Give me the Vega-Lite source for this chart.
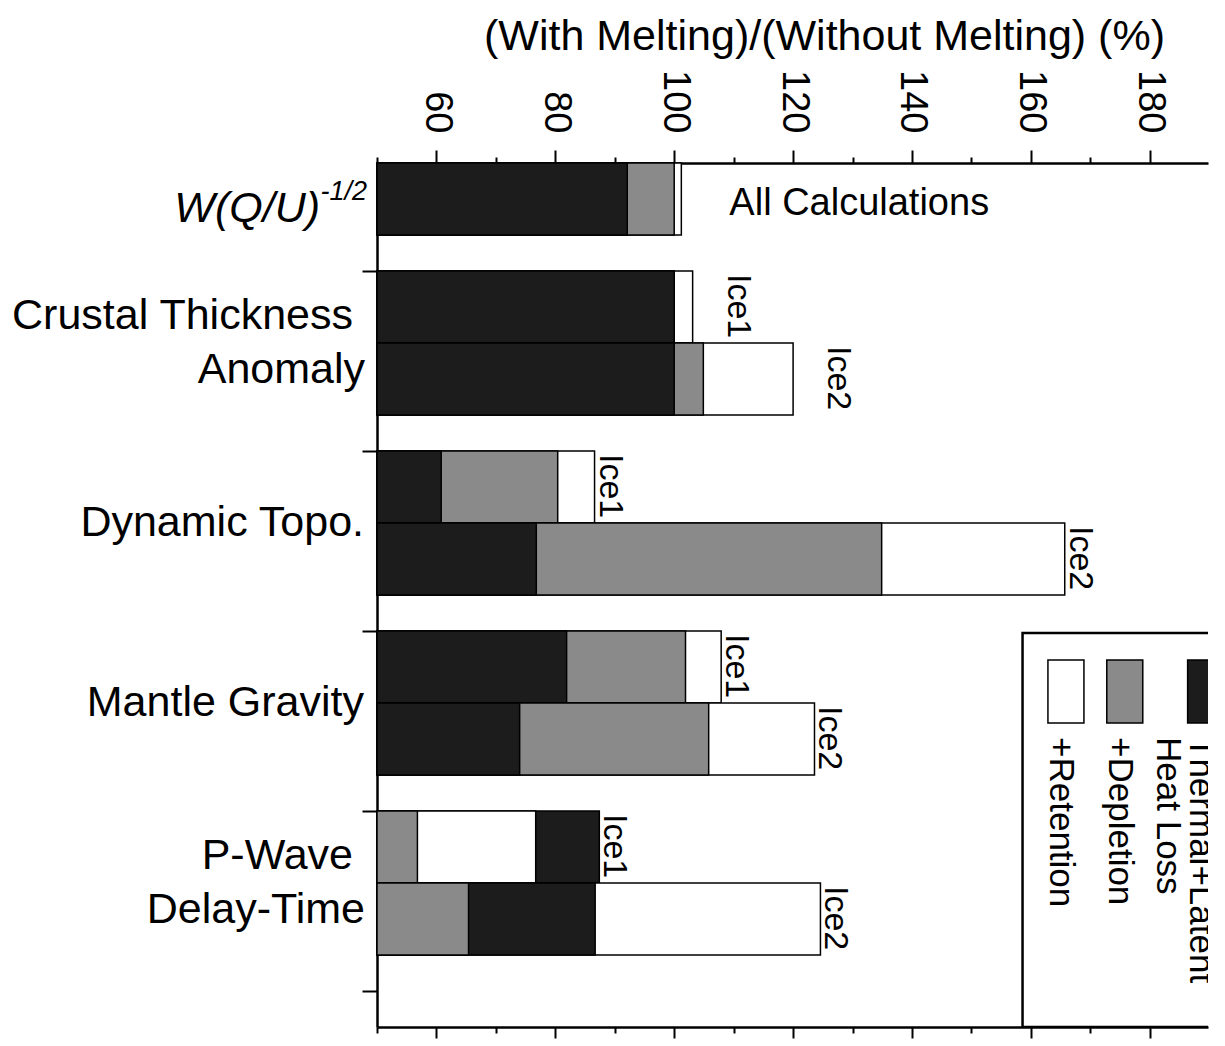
{
  "$schema": "https://vega.github.io/schema/vega-lite/v6.json",
  "autosize": "none",
  "width": 831,
  "height": 864,
  "padding": {"left": 377, "top": 163, "right": 17, "bottom": 19},
  "background": "white",
  "config": {
    "font": "Liberation Sans",
    "view": {"stroke": null},
    "scale": {"continuousPadding": 0},
    "axis": {"domainColor": "black", "domainWidth": 2.5, "tickColor": "black", "tickWidth": 2, "labelColor": "black", "titleColor": "black", "grid": false}
  },
  "datasets": {
    "bars": [
      {"bar": "W", "case": "All", "pos": 0.6, "measure": "Retention", "value": 101.2},
      {"bar": "W", "case": "All", "pos": 0.6, "measure": "Depletion", "value": 100.0},
      {"bar": "W", "case": "All", "pos": 0.6, "measure": "Thermal", "value": 92.1},
      {"bar": "Crustal", "case": "Ice1", "pos": 1.2, "measure": "Retention", "value": 103.1},
      {"bar": "Crustal", "case": "Ice1", "pos": 1.2, "measure": "Depletion", "value": 100.0},
      {"bar": "Crustal", "case": "Ice1", "pos": 1.2, "measure": "Thermal", "value": 100.0},
      {"bar": "Crustal", "case": "Ice2", "pos": 1.6, "measure": "Retention", "value": 120.0},
      {"bar": "Crustal", "case": "Ice2", "pos": 1.6, "measure": "Depletion", "value": 104.9},
      {"bar": "Crustal", "case": "Ice2", "pos": 1.6, "measure": "Thermal", "value": 100.0},
      {"bar": "Topo", "case": "Ice1", "pos": 2.2, "measure": "Retention", "value": 86.6},
      {"bar": "Topo", "case": "Ice1", "pos": 2.2, "measure": "Depletion", "value": 80.4},
      {"bar": "Topo", "case": "Ice1", "pos": 2.2, "measure": "Thermal", "value": 60.8},
      {"bar": "Topo", "case": "Ice2", "pos": 2.6, "measure": "Retention", "value": 165.7},
      {"bar": "Topo", "case": "Ice2", "pos": 2.6, "measure": "Depletion", "value": 134.9},
      {"bar": "Topo", "case": "Ice2", "pos": 2.6, "measure": "Thermal", "value": 76.8},
      {"bar": "Gravity", "case": "Ice1", "pos": 3.2, "measure": "Retention", "value": 107.9},
      {"bar": "Gravity", "case": "Ice1", "pos": 3.2, "measure": "Depletion", "value": 101.9},
      {"bar": "Gravity", "case": "Ice1", "pos": 3.2, "measure": "Thermal", "value": 81.9},
      {"bar": "Gravity", "case": "Ice2", "pos": 3.6, "measure": "Retention", "value": 123.6},
      {"bar": "Gravity", "case": "Ice2", "pos": 3.6, "measure": "Depletion", "value": 105.8},
      {"bar": "Gravity", "case": "Ice2", "pos": 3.6, "measure": "Thermal", "value": 74.0},
      {"bar": "PWave", "case": "Ice1", "pos": 4.2, "measure": "Thermal", "value": 87.4},
      {"bar": "PWave", "case": "Ice1", "pos": 4.2, "measure": "Retention", "value": 76.7},
      {"bar": "PWave", "case": "Ice1", "pos": 4.2, "measure": "Depletion", "value": 56.8},
      {"bar": "PWave", "case": "Ice2", "pos": 4.6, "measure": "Retention", "value": 124.6},
      {"bar": "PWave", "case": "Ice2", "pos": 4.6, "measure": "Thermal", "value": 86.7},
      {"bar": "PWave", "case": "Ice2", "pos": 4.6, "measure": "Depletion", "value": 65.4}
    ],
    "ylabels": [
      {"label": "Crustal Thickness", "pos": 1.4, "line": "first"},
      {"label": "Anomaly", "pos": 1.4, "line": "second"},
      {"label": "Dynamic Topo.", "pos": 2.4, "line": "single"},
      {"label": "Mantle Gravity", "pos": 3.4, "line": "single"},
      {"label": "P-Wave", "pos": 4.4, "line": "first"},
      {"label": "Delay-Time", "pos": 4.4, "line": "second"}
    ],
    "legend": [
      {"measure": "Retention", "label": ["+Retention"], "lx": 165.9},
      {"measure": "Depletion", "label": ["+Depletion"], "lx": 175.8},
      {"measure": "Thermal", "label": ["Thermal+Latent", "Heat Loss"], "lx": 189.4}
    ]
  },
  "resolve": {"axis": {"x": "independent", "y": "independent"}},
  "layer": [
    {
      "data": {"name": "bars"},
      "mark": {"type": "bar", "height": 72, "stroke": "black", "strokeWidth": 1.5},
      "encoding": {
        "y": {"field": "pos", "type": "quantitative", "scale": {"domain": [0.4, 5.2], "reverse": true, "nice": false, "zero": false, "padding": 0},
              "axis": {"orient": "left", "values": [1, 2, 3, 4, 5], "tickSize": 15, "labels": false, "title": null, "domain": true}},
        "x": {"field": "value", "type": "quantitative", "scale": {"domain": [50, 189.8], "nice": false, "zero": false, "padding": 0},
              "axis": {"orient": "top", "values": [50, 60, 70, 80, 90, 100, 110, 120, 130, 140, 150, 160, 170, 180],
                       "tickSize": {"condition": {"test": "datum.value % 20 === 0", "value": 13}, "value": 6},
                       "labelExpr": "datum.value % 20 === 0 ? datum.label : ''",
                       "labelAngle": 90, "labelAlign": "right", "labelBaseline": "middle", "labelPadding": 17,
                       "labelFontSize": 38, "labelFont": "Liberation Sans", "labelOverlap": false, "labelBound": false, "labelFlush": false,
                       "title": "(With Melting)/(Without Melting) (%)", "titleFontSize": 43, "titleFontWeight": "normal", "titleFont": "Liberation Sans",
                       "titleX": 447, "titleY": -114, "titleAlign": "center", "titleBaseline": "alphabetic", "titleAngle": 0}},
        "x2": {"datum": 50},
        "color": {"field": "measure", "type": "nominal", "scale": {"domain": ["Thermal", "Depletion", "Retention"], "range": ["#1c1c1c", "#8a8a8a", "#ffffff"]}, "legend": null}
      }
    },
    {
      "data": {"name": "bars"},
      "transform": [
        {"joinaggregate": [{"op": "max", "field": "value", "as": "maxv"}], "groupby": ["pos"]},
        {"filter": "datum.value === datum.maxv && datum.case !== 'All' && datum.bar !== 'Crustal'"}
      ],
      "mark": {"type": "text", "angle": 90, "align": "left", "baseline": "alphabetic", "dx": -33, "dy": -5, "fontSize": 34, "color": "black"},
      "encoding": {
        "x": {"field": "value", "type": "quantitative", "scale": {"domain": [50, 189.8], "nice": false, "zero": false, "padding": 0}, "axis": null},
        "y": {"field": "pos", "type": "quantitative", "scale": {"domain": [0.4, 5.2], "reverse": true, "nice": false, "zero": false, "padding": 0}, "axis": null},
        "text": {"field": "case", "type": "nominal"}
      }
    },
    {
      "data": {"name": "bars"},
      "transform": [
        {"joinaggregate": [{"op": "max", "field": "value", "as": "maxv"}], "groupby": ["pos"]},
        {"filter": "datum.value === datum.maxv && datum.bar === 'Crustal'"}
      ],
      "mark": {"type": "text", "angle": 90, "align": "left", "baseline": "alphabetic", "dx": -33, "dy": -35, "fontSize": 34, "color": "black"},
      "encoding": {
        "x": {"field": "value", "type": "quantitative", "scale": {"domain": [50, 189.8], "nice": false, "zero": false, "padding": 0}, "axis": null},
        "y": {"field": "pos", "type": "quantitative", "scale": {"domain": [0.4, 5.2], "reverse": true, "nice": false, "zero": false, "padding": 0}, "axis": null},
        "text": {"field": "case", "type": "nominal"}
      }
    },
    {
      "data": {"name": "bars"},
      "transform": [{"filter": "datum.case === 'All' && datum.measure === 'Retention'"}],
      "mark": {"type": "text", "align": "left", "baseline": "alphabetic", "dx": 48, "dy": 16, "fontSize": 38, "color": "black"},
      "encoding": {
        "x": {"field": "value", "type": "quantitative", "scale": {"domain": [50, 189.8], "nice": false, "zero": false, "padding": 0}, "axis": null},
        "y": {"field": "pos", "type": "quantitative", "scale": {"domain": [0.4, 5.2], "reverse": true, "nice": false, "zero": false, "padding": 0}, "axis": null},
        "text": {"value": "All Calculations"}
      }
    },
    {
      "data": {"name": "ylabels"},
      "transform": [{"filter": "datum.line === 'first'"}],
      "mark": {"type": "text", "align": "right", "baseline": "middle", "dx": -24, "dy": -27, "fontSize": 43, "color": "black"},
      "encoding": {
        "x": {"datum": 50, "type": "quantitative", "scale": {"domain": [50, 189.8], "nice": false, "zero": false, "padding": 0}, "axis": null},
        "y": {"field": "pos", "type": "quantitative", "scale": {"domain": [0.4, 5.2], "reverse": true, "nice": false, "zero": false, "padding": 0}, "axis": null},
        "text": {"field": "label", "type": "nominal"}
      }
    },
    {
      "data": {"name": "ylabels"},
      "transform": [{"filter": "datum.line === 'second'"}],
      "mark": {"type": "text", "align": "right", "baseline": "middle", "dx": -12, "dy": 27, "fontSize": 43, "color": "black"},
      "encoding": {
        "x": {"datum": 50, "type": "quantitative", "scale": {"domain": [50, 189.8], "nice": false, "zero": false, "padding": 0}, "axis": null},
        "y": {"field": "pos", "type": "quantitative", "scale": {"domain": [0.4, 5.2], "reverse": true, "nice": false, "zero": false, "padding": 0}, "axis": null},
        "text": {"field": "label", "type": "nominal"}
      }
    },
    {
      "data": {"name": "ylabels"},
      "transform": [{"filter": "datum.line === 'single'"}],
      "mark": {"type": "text", "align": "right", "baseline": "middle", "dx": -13, "fontSize": 43, "color": "black"},
      "encoding": {
        "x": {"datum": 50, "type": "quantitative", "scale": {"domain": [50, 189.8], "nice": false, "zero": false, "padding": 0}, "axis": null},
        "y": {"field": "pos", "type": "quantitative", "scale": {"domain": [0.4, 5.2], "reverse": true, "nice": false, "zero": false, "padding": 0}, "axis": null},
        "text": {"field": "label", "type": "nominal"}
      }
    },
    {
      "data": {"values": [{}]},
      "mark": {"type": "text", "align": "right", "baseline": "alphabetic", "dx": -57, "dy": 23, "fontSize": 43, "fontStyle": "italic", "color": "black"},
      "encoding": {
        "x": {"datum": 50, "type": "quantitative", "scale": {"domain": [50, 189.8], "nice": false, "zero": false, "padding": 0}, "axis": null},
        "y": {"datum": 0.6, "type": "quantitative", "scale": {"domain": [0.4, 5.2], "reverse": true, "nice": false, "zero": false, "padding": 0}, "axis": null},
        "text": {"value": "W(Q/U)"}
      }
    },
    {
      "data": {"values": [{}]},
      "mark": {"type": "text", "align": "right", "baseline": "alphabetic", "dx": -10, "dy": 1, "fontSize": 27, "fontStyle": "italic", "color": "black"},
      "encoding": {
        "x": {"datum": 50, "type": "quantitative", "scale": {"domain": [50, 189.8], "nice": false, "zero": false, "padding": 0}, "axis": null},
        "y": {"datum": 0.6, "type": "quantitative", "scale": {"domain": [0.4, 5.2], "reverse": true, "nice": false, "zero": false, "padding": 0}, "axis": null},
        "text": {"value": "-1/2"}
      }
    },
    {
      "data": {"values": [{}]},
      "mark": {"type": "rect", "fill": "white", "stroke": "black", "strokeWidth": 2.5, "clip": true},
      "encoding": {
        "x": {"datum": 158.6, "type": "quantitative", "scale": {"domain": [50, 189.8], "nice": false, "zero": false, "padding": 0}, "axis": null},
        "x2": {"datum": 200},
        "y": {"datum": 3.011, "type": "quantitative", "scale": {"domain": [0.4, 5.2], "reverse": true, "nice": false, "zero": false, "padding": 0}, "axis": null},
        "y2": {"datum": 5.2}
      }
    },
    {
      "data": {"name": "legend"},
      "mark": {"type": "bar", "size": 36, "stroke": "black", "strokeWidth": 1.5, "clip": true},
      "encoding": {
        "x": {"field": "lx", "type": "quantitative", "scale": {"domain": [50, 189.8], "nice": false, "zero": false, "padding": 0},
              "axis": {"orient": "bottom", "values": [50, 60, 70, 80, 90, 100, 110, 120, 130, 140, 150, 160, 170, 180],
                       "tickSize": {"condition": {"test": "datum.value % 20 === 0", "value": 11}, "value": 6},
                       "labels": false, "title": null}},
        "y": {"datum": 3.161, "type": "quantitative", "scale": {"domain": [0.4, 5.2], "reverse": true, "nice": false, "zero": false, "padding": 0}, "axis": null},
        "y2": {"datum": 3.511},
        "color": {"field": "measure", "type": "nominal", "scale": {"domain": ["Thermal", "Depletion", "Retention"], "range": ["#1c1c1c", "#8a8a8a", "#ffffff"]}, "legend": null}
      }
    },
    {
      "data": {"name": "legend"},
      "mark": {"type": "text", "angle": 90, "align": "left", "baseline": "alphabetic", "dy": 16, "fontSize": 35, "lineHeight": 33, "color": "black", "clip": true},
      "encoding": {
        "x": {"field": "lx", "type": "quantitative", "scale": {"domain": [50, 189.8], "nice": false, "zero": false, "padding": 0}, "axis": null},
        "y": {"datum": 3.589, "type": "quantitative", "scale": {"domain": [0.4, 5.2], "reverse": true, "nice": false, "zero": false, "padding": 0}, "axis": null},
        "text": {"field": "label", "type": "nominal"}
      }
    }
  ]
}
